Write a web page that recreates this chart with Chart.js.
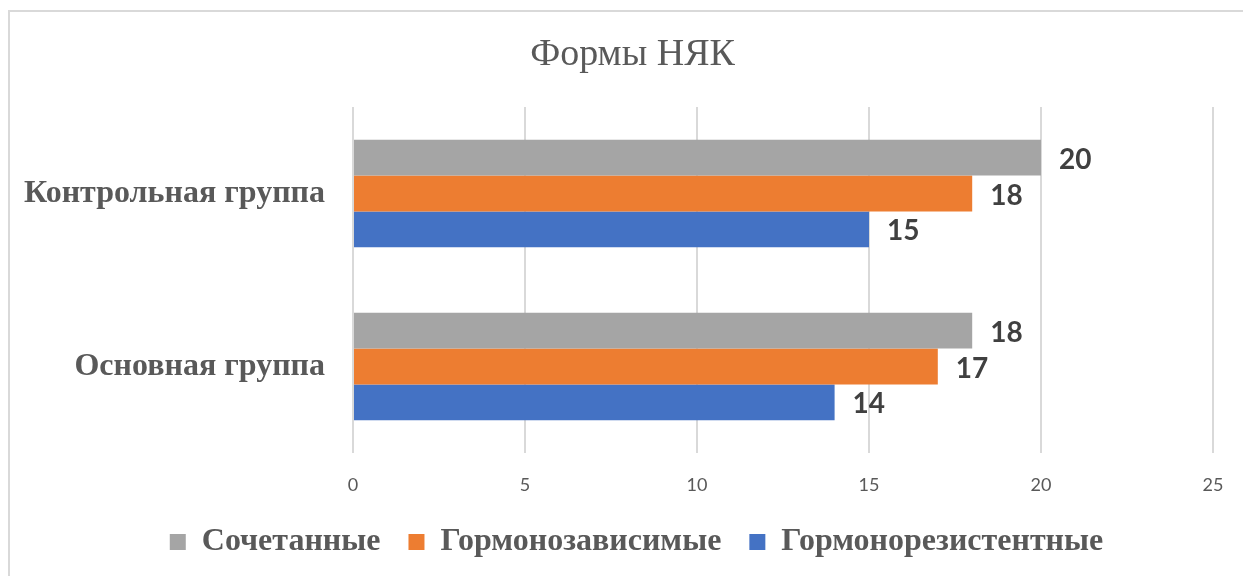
<!DOCTYPE html>
<html lang="ru">
<head>
<meta charset="utf-8">
<title>Формы НЯК</title>
<script src="https://cdn.jsdelivr.net/npm/chart.js@4/dist/chart.umd.min.js"></script>
<style>
    body { margin: 0; background: #ffffff; overflow: hidden; width: 1243px; height: 576px; position: relative; }
    #ramka { position: absolute; left: 8px; top: 10px; width: 1300px; height: 700px; border-left: 2px solid #d9d9d9; border-top: 2px solid #d9d9d9; }
    #grafiks { position: absolute; left: 0; top: 0; }
</style>
</head>
<body>
<div id="ramka"></div>
<canvas id="grafiks" width="1243" height="576"></canvas>
<script>
// Категории по оси Y (сверху вниз).
const kategorii = ["Контрольная группа", "Основная группа"];

// Значения серий.
const sochetannye = [20, 18];
const gormonozavisimye = [18, 17];
const gormonorezistentnye = [15, 14];

// Подписи делений оси X.
const deleniyaX = [0, 5, 10, 15, 20, 25];

// Плагин для подписей значений справа от столбцов.
const podpisiZnacheniy = {
    id: "podpisiZnacheniy",
    afterDatasetsDraw(chart) {
        const ctx = chart.ctx;
        ctx.save();
        ctx.font = "bold 28px Lato";
        ctx.fillStyle = "#404040";
        ctx.textAlign = "left";
        ctx.textBaseline = "middle";
        chart.data.datasets.forEach((nabor, i) => {
            chart.getDatasetMeta(i).data.forEach((stolbec, j) => {
                ctx.fillText(String(nabor.data[j]), stolbec.x + 18, stolbec.y + 2);
            });
        });
        ctx.restore();
    }
};

// Плагин сдвигает заголовок и легенду вправо, как в оригинале.
const sdvigBlokov = {
    id: "sdvigBlokov",
    afterLayout(chart) {
        if (chart.titleBlock) {
            chart.titleBlock.left += 22;
            chart.titleBlock.right += 22;
        }
        if (chart.legend) {
            chart.legend.left += 26;
            chart.legend.right += 26;
        }
    }
};

// Создание горизонтальной столбчатой диаграммы.
new Chart(document.getElementById("grafiks"), {
    type: "bar",
    data: {
        labels: kategorii,
        datasets: [
            { label: "Сочетанные", data: sochetannye, backgroundColor: "#a5a5a5" },
            { label: "Гормонозависимые", data: gormonozavisimye, backgroundColor: "#ed7d31" },
            { label: "Гормонорезистентные", data: gormonorezistentnye, backgroundColor: "#4472c4" }
        ]
    },
    options: {
        indexAxis: "y",
        responsive: false,
        animation: false,
        categoryPercentage: 0.622,
        barPercentage: 1,
        layout: { padding: { left: 8, right: 30, top: 16, bottom: 8 } },
        plugins: {
            title: {
                display: true,
                text: "Формы НЯК",
                color: "#595959",
                font: { family: "Liberation Serif", size: 38, weight: "normal" },
                padding: { top: 16.2, bottom: 29.2 }
            },
            legend: {
                position: "bottom",
                labels: {
                    color: "#595959",
                    font: { family: "Liberation Serif", size: 32, weight: "bold" },
                    boxWidth: 16,
                    boxHeight: 16,
                    padding: 28
                }
            },
            tooltip: { enabled: false }
        },
        scales: {
            x: {
                min: 0,
                max: 25,
                afterBuildTicks(scale) {
                    scale.ticks = deleniyaX.map(v => ({ value: v }));
                },
                afterFit(scale) {
                    scale.height = 45;
                },
                grid: { color: "#d9d9d9", lineWidth: 2, drawTicks: true, tickLength: 17, tickColor: "rgba(0,0,0,0)" },
                border: { display: false },
                ticks: {
                    color: "#595959",
                    font: { family: "Lato", size: 18 },
                    padding: 4
                }
            },
            y: {
                afterFit(scale) {
                    scale.width = 345;
                },
                grid: { display: false, drawTicks: false },
                border: { display: false },
                ticks: {
                    color: "#595959",
                    font: { family: "Liberation Serif", size: 32, weight: "bold" },
                    padding: 28
                }
            }
        }
    },
    plugins: [podpisiZnacheniy, sdvigBlokov]
});
</script>
</body>
</html>
